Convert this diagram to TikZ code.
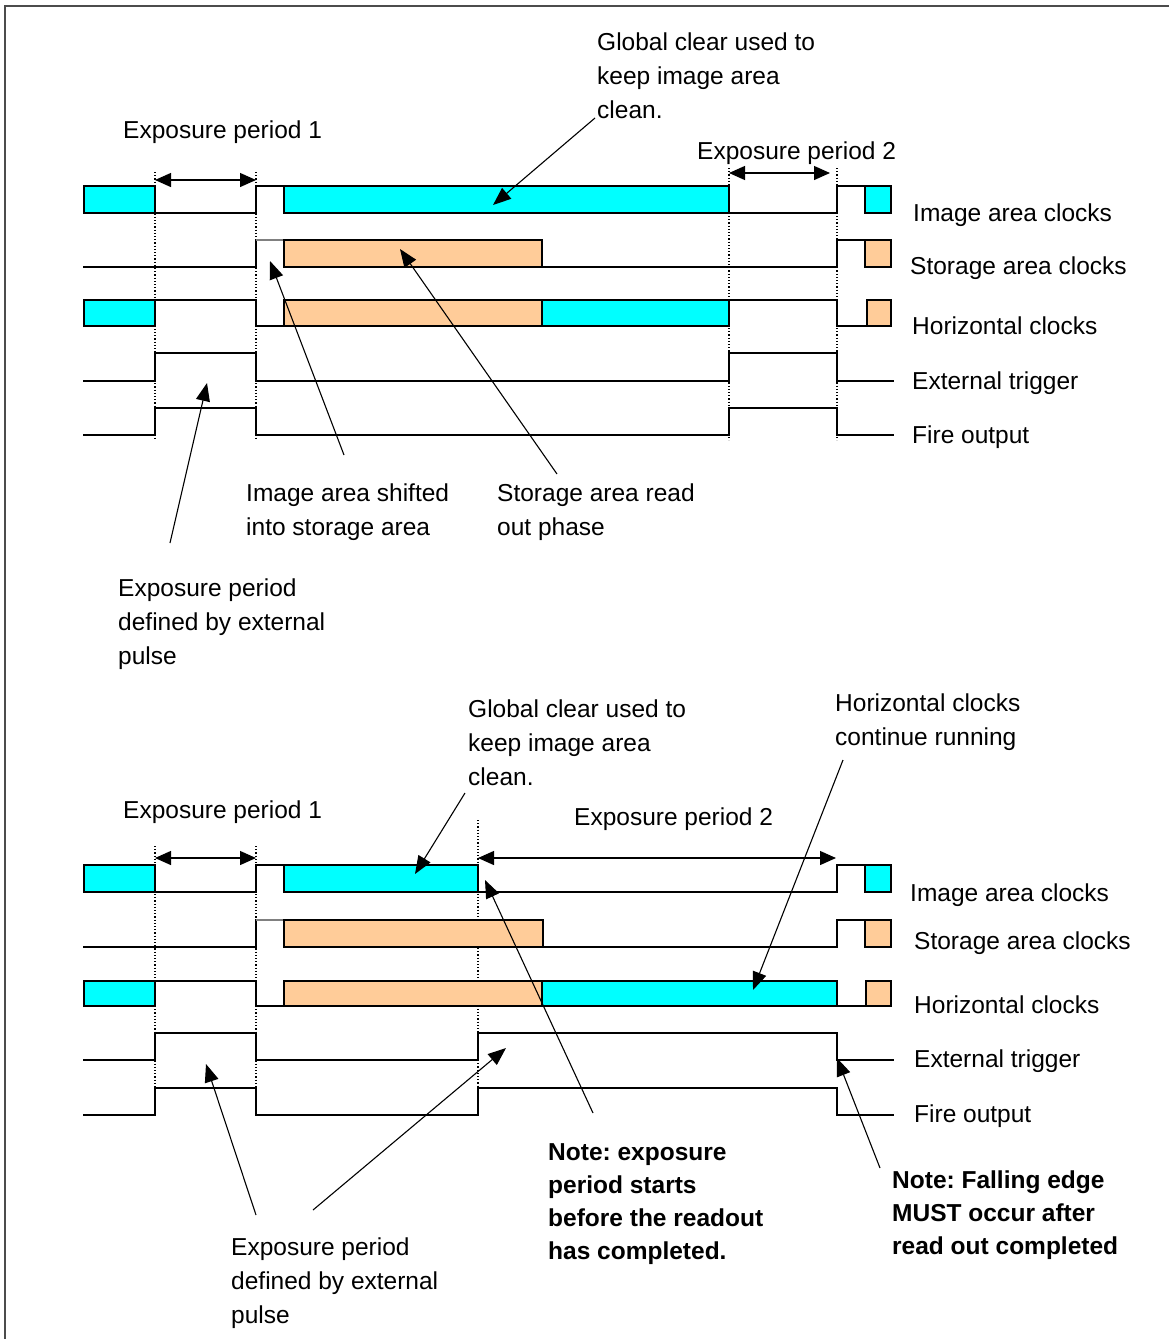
\documentclass[tikz,border=0pt]{standalone}
\usepackage{fontspec}
\setmainfont{Liberation Sans}
\usetikzlibrary{arrows.meta}
\definecolor{clkcyan}{RGB}{0,255,255}
\definecolor{clkorange}{RGB}{255,204,153}
\frenchspacing
\begin{document}
\begin{tikzpicture}[x=1pt,y=-1pt,
  sig/.style={line width=1.5pt,line cap=rect,line join=miter},
  sigthin/.style={line width=1.2pt,gray},
  cyanbox/.style={fill=clkcyan,draw=black,line width=1.5pt},
  orangebox/.style={fill=clkorange,draw=black,line width=1.5pt},
  guide/.style={line width=1.2pt,dotted},
  callout/.style={line width=1.1pt,-{Triangle[length=18pt,width=14pt]}},
  span/.style={line width=1.3pt,{Triangle[length=16pt,width=14pt]}-{Triangle[length=16pt,width=14pt]}},
  lbl/.style={inner sep=0pt,anchor=base west,align=left,font=\fontsize{24.5}{34}\selectfont},
  note/.style={inner sep=0pt,anchor=base west,align=left,font=\fontsize{24.5}{32.7}\selectfont\bfseries}
]
\useasboundingbox (0,0) rectangle (1169,1339);
% frame
\draw[line width=2pt,black!70] (5,1339) -- (5,6) -- (1169,6);

%================ TOP DIAGRAM ================
% guides
\foreach \gx in {155,256}{\draw[guide] (\gx,172) -- (\gx,440);}
\foreach \gx in {729,837}{\draw[guide] (\gx,168) -- (\gx,440);}
% image area clocks
\filldraw[cyanbox] (84,186) rectangle (155,213);
\draw[sig] (155,213) -- (256,213) -- (256,186) -- (284,186);
\filldraw[cyanbox] (284,186) rectangle (729,213);
\draw[sig] (729,213) -- (837,213) -- (837,186) -- (865,186);
\filldraw[cyanbox] (865,186) rectangle (891,213);
% storage area clocks
\draw[sig] (84,267) -- (256,267) -- (256,240);
\draw[sigthin] (256,240) -- (284,240);
\filldraw[orangebox] (284,240) rectangle (542,267);
\draw[sig] (542,267) -- (837,267) -- (837,240) -- (865,240);
\filldraw[orangebox] (865,240) rectangle (891,267);
% horizontal clocks
\filldraw[cyanbox] (84,300) rectangle (155,326);
\draw[sig] (155,300) -- (256,300) -- (256,326) -- (284,326);
\filldraw[orangebox] (284,300) rectangle (542,326);
\filldraw[cyanbox] (542,300) rectangle (729,326);
\draw[sig] (729,300) -- (837,300) -- (837,326) -- (867,326);
\filldraw[orangebox] (867,300) rectangle (891,326);
% external trigger
\draw[sig] (84,381) -- (155,381) -- (155,353) -- (256,353) -- (256,381) -- (729,381) -- (729,353) -- (837,353) -- (837,381) -- (893,381);
% fire output
\draw[sig] (84,435) -- (155,435) -- (155,408) -- (256,408) -- (256,435) -- (729,435) -- (729,408) -- (837,408) -- (837,435) -- (893,435);

% spans
\coordinate (e1a) at (155,180); \coordinate (e1b) at (256,180);
\coordinate (e2a) at (729,173); \coordinate (e2b) at (830,173);
\draw[span] (e1a) -- (e1b);
\draw[span] (e2a) -- (e2b);

% labels (anchor = baseline of last line)
\node[lbl] (tEP1) at (123,138) {Exposure period 1};
\node[lbl] (tGC) at (597,118) {Global clear used to\\keep image area\\clean.};
\node[lbl] (tEP2) at (697,159) {Exposure period 2};
\node[lbl] (tIAC) at (913,221) {Image area clocks};
\node[lbl] (tSAC) at (910,274) {Storage area clocks};
\node[lbl] (tHC) at (912,334) {Horizontal clocks};
\node[lbl] (tET) at (912,389) {External trigger};
\node[lbl] (tFO) at (912,443) {Fire output};
\node[lbl] (tIAS) at (246,535) {Image area shifted\\into storage area};
\node[lbl] (tSAR) at (497,535) {Storage area read\\out phase};
\node[lbl] (tEPD) at (118,664) {Exposure period\\defined by external\\pulse};

% callouts
\coordinate (gcS) at (595,118); \coordinate (gcT) at (493,205);
\coordinate (iasS) at (344,455); \coordinate (iasT) at (270,261);
\coordinate (sarS) at (557,474); \coordinate (sarT) at (400,249);
\coordinate (epdS) at (170,543); \coordinate (epdT) at (207,383);
\draw[callout] (gcS) -- (gcT);
\draw[callout] (iasS) -- (iasT);
\draw[callout] (sarS) -- (sarT);
\draw[callout] (epdS) -- (epdT);

%================ BOTTOM DIAGRAM ================
\foreach \gx in {155,256}{\draw[guide] (\gx,846) -- (\gx,1100);}
\draw[guide] (478,820) -- (478,1090);
% image area clocks
\filldraw[cyanbox] (84,865) rectangle (155,892);
\draw[sig] (155,892) -- (256,892) -- (256,865) -- (284,865);
\filldraw[cyanbox] (284,865) rectangle (478,892);
\draw[sig] (478,892) -- (837,892) -- (837,865) -- (865,865);
\filldraw[cyanbox] (865,865) rectangle (891,892);
% storage area clocks
\draw[sig] (84,947) -- (256,947) -- (256,920);
\draw[sigthin] (256,920) -- (284,920);
\filldraw[orangebox] (284,920) rectangle (543,947);
\draw[sig] (543,947) -- (837,947) -- (837,920) -- (865,920);
\filldraw[orangebox] (865,920) rectangle (891,947);
% horizontal clocks
\filldraw[cyanbox] (84,981) rectangle (155,1006);
\draw[sig] (155,981) -- (256,981) -- (256,1006) -- (284,1006);
\filldraw[orangebox] (284,981) rectangle (542,1006);
\filldraw[cyanbox] (542,981) rectangle (837,1006);
\draw[sig] (837,1006) -- (866,1006);
\filldraw[orangebox] (866,981) rectangle (891,1006);
% external trigger
\draw[sig] (84,1060) -- (155,1060) -- (155,1033) -- (256,1033) -- (256,1060) -- (478,1060) -- (478,1033) -- (837,1033) -- (837,1060) -- (893,1060);
% fire output
\draw[sig] (84,1115) -- (155,1115) -- (155,1088) -- (256,1088) -- (256,1115) -- (478,1115) -- (478,1088) -- (837,1088) -- (837,1115) -- (893,1115);

% spans
\coordinate (f1a) at (155,858); \coordinate (f1b) at (256,858);
\coordinate (f2a) at (478,858); \coordinate (f2b) at (836,858);
\draw[span] (f1a) -- (f1b);
\draw[span] (f2a) -- (f2b);

% labels (anchor = baseline of last line)
\node[lbl] (bEP1) at (123,818) {Exposure period 1};
\node[lbl] (bGC) at (468,785) {Global clear used to\\keep image area\\clean.};
\node[lbl] (bHCR) at (835,745) {Horizontal clocks\\continue running};
\node[lbl] (bEP2) at (574,825) {Exposure period 2};
\node[lbl] (bIAC) at (910,901) {Image area clocks};
\node[lbl] (bSAC) at (914,949) {Storage area clocks};
\node[lbl] (bHC) at (914,1013) {Horizontal clocks};
\node[lbl] (bET) at (914,1067) {External trigger};
\node[lbl] (bFO) at (914,1122) {Fire output};
\node[note] (bN1) at (548,1259) {Note: exposure\\period starts\\before the readout\\has completed.};
\node[note] (bN2) at (892,1254) {Note: Falling edge\\MUST occur after\\read out completed};
\node[lbl] (bEPD) at (231,1323) {Exposure period\\defined by external\\pulse};

% callouts
\coordinate (bgcS) at (465,793); \coordinate (bgcT) at (415,874);
\coordinate (hcS) at (843,760); \coordinate (hcT) at (753,990);
\coordinate (n1S) at (593,1113); \coordinate (n1T) at (485,880);
\coordinate (n2S) at (880,1168); \coordinate (n2T) at (837,1058);
\coordinate (epaS) at (256,1215); \coordinate (epaT) at (206,1064);
\coordinate (epbS) at (313,1210); \coordinate (epbT) at (506,1048);
\draw[callout] (bgcS) -- (bgcT);
\draw[callout] (hcS) -- (hcT);
\draw[callout] (n1S) -- (n1T);
\draw[callout] (n2S) -- (n2T);
\draw[callout] (epaS) -- (epaT);
\draw[callout] (epbS) -- (epbT);
\end{tikzpicture}
\end{document}
